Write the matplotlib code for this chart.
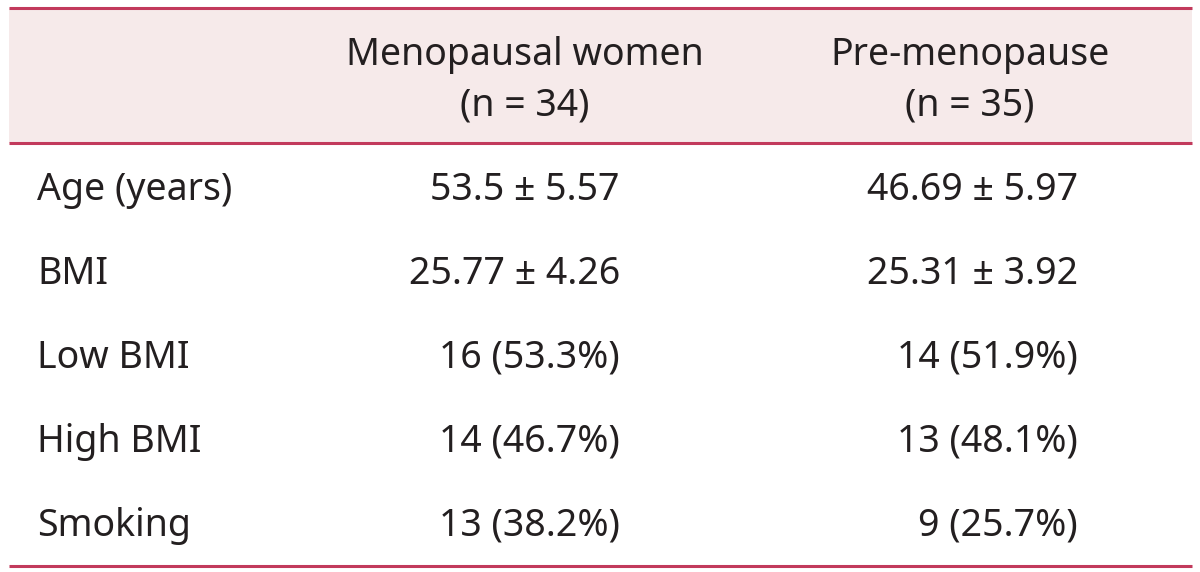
import matplotlib
matplotlib.use("Agg")
import matplotlib.pyplot as plt
from matplotlib.patches import Rectangle

plt.rcParams["font.family"] = ["Noto Sans", "DejaVu Sans"]

col_heads = ["Menopausal women\n(n = 34)", "Pre-menopause\n(n = 35)"]
row_labels = ["Age (years)", "BMI", "Low BMI", "High BMI", "Smoking"]
meno = ["53.5 ± 5.57", "25.77 ± 4.26", "16 (53.3%)", "14 (46.7%)", "13 (38.2%)"]
pre = ["46.69 ± 5.97", "25.31 ± 3.92", "14 (51.9%)", "13 (48.1%)", "9 (25.7%)"]

LINE = "#c23a5c"
HEAD_BG = "#f6eaea"
TXT = "#231f20"
FS = 27

fig = plt.figure(figsize=(12, 5.72), dpi=100)
ax = fig.add_axes([0, 0, 1, 1])
ax.set_xlim(0, 1200)
ax.set_ylim(572, 0)
ax.axis("off")

# header band + rules
ax.add_patch(Rectangle((9, 8), 1183, 135, facecolor=HEAD_BG, edgecolor="none"))
for y in (8, 143, 566):
    ax.plot([9, 1192], [y, y], color=LINE, lw=2.2, solid_capstyle="butt")

head_x = [525, 970]
for x, h in zip(head_x, col_heads):
    ax.text(x, 80, h, ha="center", va="center", fontsize=FS, color=TXT,
            linespacing=1.42)

row_y = [190, 274, 358, 442, 526]
for y, lab, a, b in zip(row_y, row_labels, meno, pre):
    ax.text(37, y, lab, ha="left", va="center", fontsize=FS, color=TXT)
    ax.text(620, y, a, ha="right", va="center", fontsize=FS, color=TXT)
    ax.text(1078, y, b, ha="right", va="center", fontsize=FS, color=TXT)

fig.savefig("out.png", dpi=100)
